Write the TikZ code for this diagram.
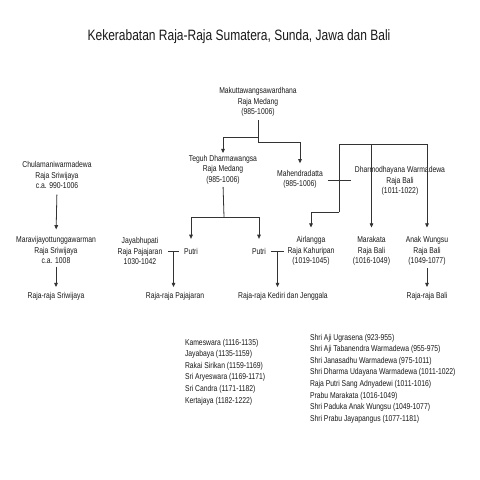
\documentclass[tikz,border=0pt]{standalone}
\usepackage{fontspec}
\setmainfont[FakeStretch=0.8]{Liberation Sans}
\usetikzlibrary{arrows.meta}
\begin{document}
\begin{tikzpicture}[x=1pt,y=-1pt,
  txt/.style={inner sep=0pt,outer sep=0pt,align=center,font=\fontsize{8.5}{10.5}\selectfont,text=black!90},
  lst/.style={inner sep=0pt,outer sep=0pt,align=left,anchor=west,font=\fontsize{8.5}{11.55}\selectfont,text=black!90},
  ln/.style={draw=black!80,line width=0.8pt},
  arr/.style={ln,-{Triangle[width=3.6pt,length=4.2pt]}}]
\useasboundingbox (0,0) rectangle (480,480);
\fill[white] (0,0) rectangle (480,480);
\node[inner sep=0pt,font=\fontsize{15}{18}\selectfont,text=black!90] (title) at (239,37) {Kekerabatan Raja-Raja Sumatera, Sunda, Jawa dan Bali};
% nodes
\node[txt] (mak) at (258,102) {Makuttawangsawardhana\\Raja Medang\\(985-1006)};
\node[txt] (chul) at (57,175) {Chulamaniwarmadewa\\Raja Sriwijaya\\c.a. 990-1006};
\node[txt] (marav) at (56,250) {Maravijayottunggawarman\\Raja Sriwijaya\\c.a. 1008};
\node[txt] (rsri) at (56,296) {Raja-raja Sriwijaya};
\node[txt] (teguh) at (223,169.5) {Teguh Dharmawangsa\\Raja Medang\\(985-1006)};
\node[txt] (mahen) at (300,179.5) {Mahendradatta\\(985-1006)};
\node[txt] (dharmo) at (400,181) {Dharmodhayana Warmadewa\\Raja Bali\\(1011-1022)};
\node[txt] (jaya) at (140,251) {Jayabhupati\\Raja Pajajaran\\1030-1042};
\node[txt] (putri1) at (191,251) {Putri};
\node[txt] (putri2) at (259,251) {Putri};
\node[txt] (airl) at (311,251) {Airlangga\\Raja Kahuripan\\(1019-1045)};
\node[txt] (mara) at (371.5,251) {Marakata\\Raja Bali\\(1016-1049)};
\node[txt] (anak) at (427,251) {Anak Wungsu\\Raja Bali\\(1049-1077)};
\node[txt] (rpaj) at (175,296) {Raja-raja Pajajaran};
\node[txt] (rked) at (283,296) {Raja-raja Kediri dan Jenggala};
\node[txt] (rbali) at (427,296) {Raja-raja Bali};
\node[lst] (list1) at (185,372) {Kameswara (1116-1135)\\Jayabaya (1135-1159)\\Rakai Sirikan (1159-1169)\\Sri Aryeswara (1169-1171)\\Sri Candra (1171-1182)\\Kertajaya (1182-1222)};
\node[lst] (list2) at (310,378.5) {Shri Aji Ugrasena (923-955)\\Shri Aji Tabanendra Warmadewa (955-975)\\Shri Janasadhu Warmadewa (975-1011)\\Shri Dharma Udayana Warmadewa (1011-1022)\\Raja Putri Sang Adnyadewi (1011-1016)\\Prabu Marakata (1016-1049)\\Shri Paduka Anak Wungsu (1049-1077)\\Shri Prabu Jayapangus (1077-1181)};
% junctions
\coordinate (m1) at (258,137);
\coordinate (m2) at (258,142);
\coordinate (t1) at (224,217);
\coordinate (mj) at (173.5,251);
\coordinate (mk) at (277.5,251);
\coordinate (d0) at (339,180);
\coordinate (d1) at (339,144);
\coordinate (d2) at (339,212);
% connectors
\draw[ln,shorten <=4pt] (mak.south) -- (m2);
\draw[arr,shorten >=2pt] (m1) -| (teguh.north);
\draw[arr,shorten >=7pt] (m2) -| (mahen.north);
\draw[arr,shorten <=6pt,shorten >=7pt] (chul.south) -- (marav.north);
\draw[arr,shorten <=3pt,shorten >=5pt] (marav.south) -- (rsri.north);
\draw[ln,shorten <=3pt] (teguh.south) -- (t1);
\draw[arr,shorten >=9pt] (t1) -| (putri1.north);
\draw[arr,shorten >=9pt] (t1) -| (putri2.north);
\draw[ln,shorten <=6pt,shorten >=5pt] (jaya.east) -- (putri1.west);
\draw[arr,shorten >=5pt] (mj) -- (mj |- rpaj.north);
\draw[ln,shorten <=5pt,shorten >=4pt] (putri2.east) -- (airl.west);
\draw[arr,shorten >=5pt] (mk) -- (mk |- rked.north);
\draw[ln,shorten <=5pt,shorten >=4pt] (mahen.east |- d0) -- (dharmo.west |- d0);
\draw[ln] (d2) -- (d1);
\draw[arr,shorten >=9pt] (d1) -| (mara.north);
\draw[arr,shorten >=9pt] (d1) -| (anak.north);
\draw[arr,shorten >=9pt] (d2) -| (airl.north);
\draw[arr,shorten <=3pt,shorten >=5pt] (anak.south) -- (rbali.north);
\end{tikzpicture}
\end{document}
